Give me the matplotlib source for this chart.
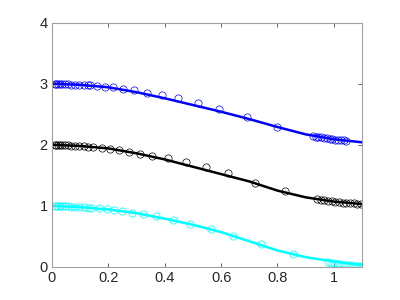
import numpy as np
import matplotlib
matplotlib.use("Agg")
import matplotlib.pyplot as plt

# fitted curves
x_line = [0.0, 0.1, 0.2, 0.3, 0.4, 0.5, 0.6, 0.7, 0.8, 0.9, 1.0, 1.1]
blue_line = [3.00, 2.98, 2.94, 2.86, 2.76, 2.65, 2.54, 2.42, 2.29, 2.17, 2.09, 2.04]
black_line = [2.00, 1.98, 1.94, 1.86, 1.76, 1.64, 1.52, 1.40, 1.25, 1.14, 1.07, 1.03]
cyan_line = [1.00, 0.98, 0.94, 0.88, 0.79, 0.69, 0.57, 0.42, 0.27, 0.16, 0.09, 0.03]

# sample points (circles)
left_x = [0.010, 0.014, 0.020, 0.027, 0.035, 0.045, 0.056, 0.068, 0.082, 0.097, 0.113, 0.128]

blue_x = left_x + [0.135, 0.16, 0.188, 0.216, 0.252, 0.291, 0.337, 0.39, 0.447, 0.518, 0.593,
                   0.691, 0.80, 0.925, 0.935, 0.945, 0.955, 0.965, 0.975, 0.985, 0.995,
                   1.005, 1.015, 1.025, 1.035, 1.042]
blue_y = [3.00, 3.00, 3.00, 2.995, 2.99, 2.99, 2.99, 2.985, 2.98, 2.98, 2.975, 2.97,
          2.97, 2.96, 2.95, 2.94, 2.92, 2.89, 2.85, 2.81, 2.76, 2.68, 2.58,
          2.45, 2.29, 2.14, 2.13, 2.125, 2.12, 2.11, 2.105, 2.10, 2.09,
          2.085, 2.08, 2.075, 2.07, 2.065]

black_x = left_x + [0.145, 0.177, 0.206, 0.238, 0.273, 0.312, 0.355, 0.41, 0.474, 0.546, 0.626,
                    0.72, 0.826, 0.94, 0.953, 0.966, 0.979, 0.992, 1.005, 1.018, 1.031,
                    1.044, 1.057, 1.070, 1.083, 1.096]
black_y = [2.00, 2.00, 2.00, 1.995, 1.99, 1.99, 1.99, 1.985, 1.98, 1.98, 1.975, 1.97,
           1.96, 1.95, 1.93, 1.91, 1.88, 1.85, 1.82, 1.78, 1.71, 1.64, 1.54,
           1.38, 1.245, 1.11, 1.10, 1.09, 1.08, 1.075, 1.07, 1.06, 1.055,
           1.05, 1.045, 1.04, 1.035, 1.03]

cyan_x = left_x + [0.14, 0.167, 0.194, 0.22, 0.25, 0.283, 0.324, 0.369, 0.428, 0.49, 0.563,
                   0.643, 0.742, 0.856, 0.98, 0.99, 1.00, 1.01, 1.02, 1.03, 1.04,
                   1.05, 1.06, 1.07, 1.08, 1.09, 1.10]
cyan_y = [1.00, 1.00, 1.00, 0.995, 0.99, 0.99, 0.99, 0.985, 0.98, 0.98, 0.975, 0.97,
          0.97, 0.96, 0.95, 0.93, 0.91, 0.89, 0.86, 0.83, 0.77, 0.71, 0.62,
          0.51, 0.37, 0.21, 0.08, 0.07, 0.06, 0.05, 0.045, 0.04, 0.035,
          0.03, 0.025, 0.02, 0.015, 0.01, 0.01]

plt.rcParams['font.family'] = ['Liberation Sans', 'DejaVu Sans']

fig = plt.figure(figsize=(4, 3), dpi=100)
ax = fig.add_axes([0.13, 0.11, 0.775, 0.815])

for xs, ys, lx, ly, c in [(blue_x, blue_y, x_line, blue_line, '#0000ff'),
                          (black_x, black_y, x_line, black_line, '#000000'),
                          (cyan_x, cyan_y, x_line, cyan_line, '#00ffff')]:
    ax.plot(xs, ys, 'o', markerfacecolor='none', markeredgecolor=c,
            markersize=5.2, markeredgewidth=0.5)
    ax.plot(lx, ly, '-', color=c, linewidth=1.8)

ax.set_xlim(0, 1.1)
ax.set_ylim(0, 4)
ax.set_xticks([0, 0.2, 0.4, 0.6, 0.8, 1])
ax.set_xticklabels(['0', '0.2', '0.4', '0.6', '0.8', '1'])
ax.set_yticks([0, 1, 2, 3, 4])
ax.tick_params(direction='in', length=3, width=0.5, top=True, right=True,
               labelsize=10.5, colors='#262626', pad=3)
for s in ax.spines.values():
    s.set_color('#a0a0a0')
    s.set_linewidth(0.8)
for t in ax.xaxis.get_ticklines() + ax.yaxis.get_ticklines():
    t.set_color('#a0a0a0')

fig.savefig('out.png', dpi=100)
